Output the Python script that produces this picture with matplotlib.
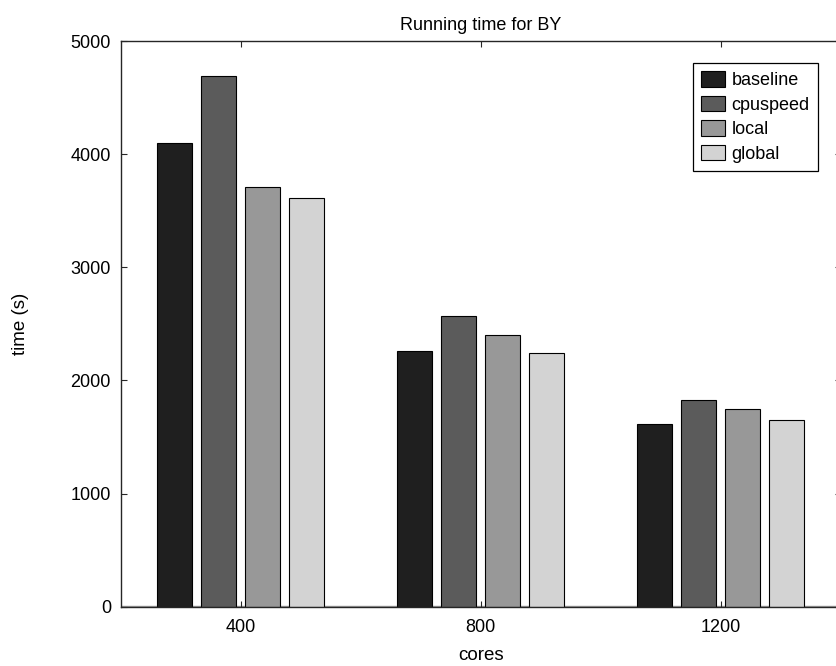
import numpy as np
import matplotlib
matplotlib.use("Agg")
from matplotlib import pyplot as plt

plt.rcParams['font.family'] = ['Liberation Sans', 'DejaVu Sans']

cores = ["400", "800", "1200"]
series = ["baseline", "cpuspeed", "local", "global"]
baseline = [4100, 2256, 1618]
cpuspeed = [4692, 2573, 1826]
local = [3710, 2403, 1747]
global_ = [3612, 2245, 1650]
values = [baseline, cpuspeed, local, global_]

colors = ["#1f1f1f", "#5b5b5b", "#989898", "#d3d3d3"]

fig = plt.figure(figsize=(8.36, 6.66), dpi=100)
ax = fig.add_axes([0.1444, 0.089, 0.8612, 0.8494])

x = np.arange(1, len(cores) + 1)
width = 0.146
step = 0.183
for i, (name, vals) in enumerate(zip(series, values)):
    ax.bar(x + (i - 1.5) * step, vals, width, color=colors[i],
           edgecolor="black", linewidth=0.8, label=name, zorder=2)
# thin grey baseline under the bars
ax.axhline(8, color="#9a9a9a", linewidth=1.0, zorder=1)

ax.set_xlim(0.5, 3.5)
ax.set_ylim(0, 5000)
ax.set_xticks(x)
ax.set_xticklabels(cores)
ax.set_yticks(np.arange(0, 5001, 1000))

ax.tick_params(direction="in", length=4.3, width=0.8, top=True, right=True,
               labelsize=13, pad=7, colors="#262626", labelcolor="black")
ax.tick_params(axis="x", pad=9)
for s in ax.spines.values():
    s.set_linewidth(1.0)
    s.set_color("#262626")

ax.set_title("Running time for BY", fontsize=13, pad=8)
ax.set_xlabel("cores", fontsize=13.5)
ax.set_ylabel("time (s)", fontsize=13.5)
ax.yaxis.set_label_coords(-0.127, 0.5)
ax.xaxis.set_label_coords(0.5, -0.071)

# legend box in the upper-right corner, anchored by figure pixels
leg = ax.legend(loc="upper right", bbox_to_anchor=(818 / 836, 1 - 63 / 666),
                bbox_transform=fig.transFigure, fontsize=13, frameon=True,
                fancybox=False, framealpha=1, edgecolor="black",
                handlelength=1.3, handleheight=0.95, handletextpad=0.4,
                labelspacing=0.36, borderpad=0.45, borderaxespad=0)
leg.get_frame().set_linewidth(0.9)

fig.savefig("out.png", dpi=100)
